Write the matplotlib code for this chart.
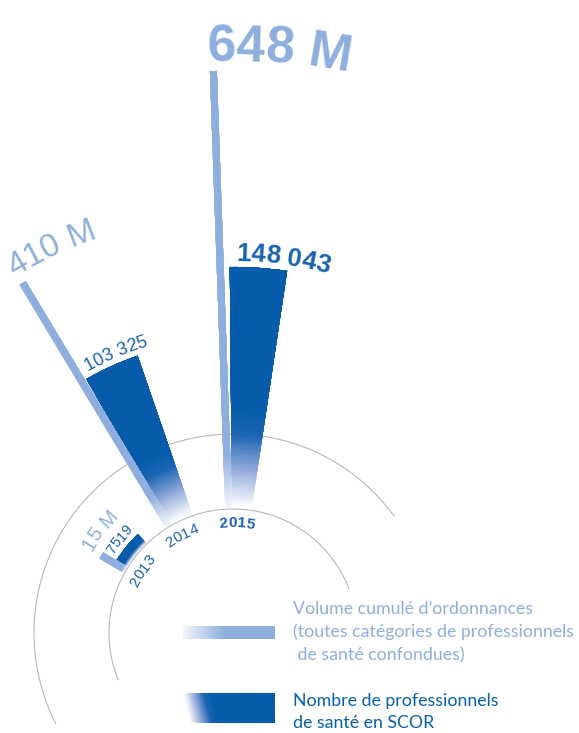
import numpy as np
import matplotlib
matplotlib.use('Agg')
import matplotlib.pyplot as plt
from matplotlib.colors import LinearSegmentedColormap
from matplotlib.font_manager import FontProperties

# --- data ---
years = ['2013', '2014', '2015']
volume_m = [15, 410, 648]                 # prescriptions, millions
volume_labels = ['15 M', '410 M', '648 M']
pros = [7519, 103325, 148043]             # health professionals
pros_labels = ['7519', '103 325', '148 043']
legend_labels = ['Volume cumulé d\u2019ordonnances\n(toutes catégories de professionnels\n de santé confondues)',
                 'Nombre de professionnels\nde santé en SCOR']

# --- layout (pixels, 1 radial unit = 1 px) ---
W, H = 579, 733
CX, CY = 233, 633
RMAX = 640
R_INNER, R_OUTER = 124, 199
R_BASE = 125
dark_edge = [148, 120, 90.5]      # upper angle of each dark wedge (deg)
dark_span = [14, 11, 9]
light_angle = [149.5, 121, 92]
LIGHT_STUB, LIGHT_SCALE = 18, 0.647   # px, px per million
DARK_SCALE = 0.001628                 # px per professional

light_sizes = [14.5, 24, 37]
dark_sizes = [10.5, 13, 18.5]

LIGHT = '#8eafde'
DARK = '#065caa'
TXT_DARK = '#1862b0'
GRID = '#b8b8b8'

cm_dark = LinearSegmentedColormap.from_list('dk', [(0, '#ffffff'), (0.4, '#8fa8da'), (0.75, '#1d66b3'), (1, DARK)])
cm_light = LinearSegmentedColormap.from_list('lt', ['#f2f6fc', LIGHT])

fig = plt.figure(figsize=(W / 100, H / 100), dpi=100)
ax = fig.add_axes([(CX - RMAX) / W, (H - CY - RMAX) / H, 2 * RMAX / W, 2 * RMAX / H], projection='polar')
ax.set_ylim(0, RMAX)
ax.set_axis_off()
renderer = fig.canvas.get_renderer()


def arc_text(s, theta0, r, size, color, weight='normal', align='left'):
    # write text clockwise along a circle of radius r, starting at theta0 (deg)
    prop = FontProperties(family='Liberation Sans', size=size, weight=weight)

    def wid(t):
        return renderer.get_text_width_height_descent('|' + t + '|', prop, ismath=False)[0]

    w0 = wid('')
    offs = [wid(s[:i]) - w0 for i in range(len(s) + 1)]
    if align == 'center':
        theta0 = theta0 + np.rad2deg(offs[-1] / 2 / r)
    for i, ch in enumerate(s):
        if ch == ' ':
            continue
        mid = (offs[i] + offs[i + 1]) / 2
        th = theta0 - np.rad2deg(mid / r)
        ax.text(np.deg2rad(th), r, ch, rotation=th - 90, rotation_mode='anchor',
                ha='center', va='baseline', fontproperties=prop, color=color)


# grey arcs
th = np.deg2rad(np.linspace(207, 36, 300))
ax.plot(th, np.full_like(th, R_OUTER), color=GRID, lw=0.8, zorder=1)
th = np.deg2rad(np.linspace(202, 21, 300))
ax.plot(th, np.full_like(th, R_INNER), color=GRID, lw=0.8, zorder=1)

light_top = R_BASE + LIGHT_STUB + np.array(volume_m) * LIGHT_SCALE
dark_top = R_BASE + np.array(pros) * DARK_SCALE

for i in range(len(years)):
    # dark wedge: overlapping slices from each step up to the top -> seamless gradient
    t0 = np.deg2rad(dark_edge[i] - dark_span[i] / 2)
    wdt = np.deg2rad(dark_span[i])
    length = dark_top[i] - R_BASE
    steps = np.linspace(0, 0.4 * length, 40)
    for k, s in enumerate(steps):
        ax.bar(t0, length - s, width=wdt, bottom=R_BASE + s,
               color=cm_dark(k / (len(steps) - 1)), linewidth=0, zorder=2)

    # light thin bar, same trick with thick radial lines
    a = np.deg2rad(light_angle[i])
    llen = light_top[i] - R_BASE
    steps = np.linspace(0, 0.12 * llen, 20)
    for k, s in enumerate(steps):
        ax.plot([a, a], [R_BASE + s, light_top[i]], color=cm_light(k / (len(steps) - 1)),
                lw=5, solid_capstyle='butt', zorder=3)

    # labels
    bold = 'bold' if i == len(years) - 1 else 'normal'
    arc_text(volume_labels[i], light_angle[i] + 0.6, light_top[i] + 10, light_sizes[i], LIGHT, weight=bold)
    arc_text(pros_labels[i], dark_edge[i] - 1.0, dark_top[i] + 6, dark_sizes[i], TXT_DARK, weight=bold)
    arc_text(years[i], dark_edge[i] - 2.4, 106, 11, TXT_DARK, weight=bold, align='center')

# legend
lax = fig.add_axes([0, 0, 1, 1])
lax.set_xlim(0, W)
lax.set_ylim(H, 0)
lax.set_axis_off()

xx = np.linspace(0, 1, 200)
lax.imshow(np.clip(xx / 0.45, 0, 1)[None, :], cmap=cm_light, vmin=0, vmax=1,
           extent=(183, 275, 639, 626), aspect='auto')
gx, gy = np.meshgrid(xx, np.linspace(0, 1, 40))
lax.imshow(np.clip((gx - 0.08 * gy) / 0.3, 0, 1), cmap=cm_dark, vmin=0, vmax=1,
           extent=(183, 275, 723, 693), aspect='auto')

lax.text(293, 632, legend_labels[0], ha='left', va='center', fontsize=12.8, color=LIGHT,
         family='Lato', linespacing=1.5)
lax.text(293, 712, legend_labels[1], ha='left', va='center', fontsize=12.8, color='#0760ad',
         family='Lato', linespacing=1.45)

fig.savefig('out.png', dpi=100, facecolor='white')
